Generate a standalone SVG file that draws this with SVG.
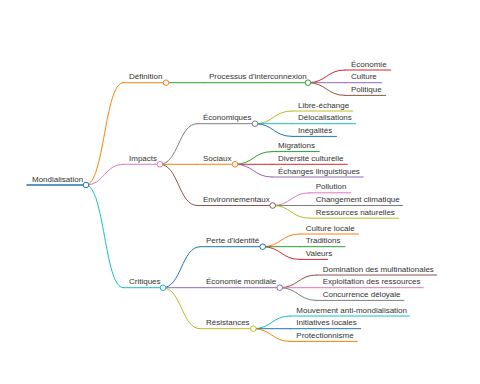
<svg xmlns="http://www.w3.org/2000/svg" width="480" height="384" viewBox="0 0 480 384">
<style>
text{font-family:"Liberation Sans",Arial,sans-serif;font-size:8px;fill:#333}
path,line{fill:none;stroke-linecap:round}
circle{fill:#fff;stroke-width:1}
.l{stroke-width:1}
.c0{stroke:#1f77b4}.c1{stroke:#ff7f0e}.c2{stroke:#2ca02c}.c3{stroke:#d62728}.c4{stroke:#9467bd}
.c5{stroke:#8c564b}.c6{stroke:#e377c2}.c7{stroke:#7f7f7f}.c8{stroke:#bcbd22}.c9{stroke:#17becf}
</style>
<rect width="480" height="384" fill="#fff"/>
<g id="connectors" stroke-width="1">
<path class="c1" d="M86,185 C104.5,185 104.5,82.7 123,82.7"/>
<path class="c6" d="M86,185 C104.5,185 104.5,164.3 123,164.3"/>
<path class="c9" d="M86,185 C104.5,185 104.5,287.7 123,287.7"/>
<path class="c2" d="M166,82.7 L203,82.7"/>
<path class="c3" d="M308,82.7 C326.5,82.7 326.5,70 345,70"/>
<path class="c4" d="M308,82.7 C326.5,82.7 326.5,82.7 345,82.7"/>
<path class="c5" d="M308,82.7 C326.5,82.7 326.5,95.4 345,95.4"/>
<path class="c7" d="M160,164.3 C178.5,164.3 178.5,123.7 197,123.7"/>
<path class="c1" d="M160,164.3 L197,164.3"/>
<path class="c5" d="M160,164.3 C178.5,164.3 178.5,205.5 197,205.5"/>
<path class="c8" d="M255,123.7 C273.5,123.7 273.5,111 292,111"/>
<path class="c9" d="M255,123.7 L292,123.7"/>
<path class="c0" d="M255,123.7 C273.5,123.7 273.5,136.4 292,136.4"/>
<path class="c2" d="M235,164.3 C253.5,164.3 253.5,151.6 272,151.6"/>
<path class="c3" d="M235,164.3 L272,164.3"/>
<path class="c4" d="M235,164.3 C253.5,164.3 253.5,177 272,177"/>
<path class="c6" d="M272.7,205.5 C291.2,205.5 291.2,192.8 309.7,192.8"/>
<path class="c7" d="M272.7,205.5 L309.7,205.5"/>
<path class="c8" d="M272.7,205.5 C291.2,205.5 291.2,218.2 309.7,218.2"/>
<path class="c0" d="M163,287.7 C181.5,287.7 181.5,246.7 200,246.7"/>
<path class="c4" d="M163,287.7 L200,287.7"/>
<path class="c8" d="M163,287.7 C181.5,287.7 181.5,328.7 200,328.7"/>
<path class="c1" d="M262.7,246.7 C281.2,246.7 281.2,234 299.7,234"/>
<path class="c2" d="M262.7,246.7 L299.7,246.7"/>
<path class="c3" d="M262.7,246.7 C281.2,246.7 281.2,259.4 299.7,259.4"/>
<path class="c5" d="M279.7,287.7 C298.2,287.7 298.2,275 316.7,275"/>
<path class="c6" d="M279.7,287.7 L316.7,287.7"/>
<path class="c7" d="M279.7,287.7 C298.2,287.7 298.2,300.4 316.7,300.4"/>
<path class="c9" d="M253.3,328.7 C271.8,328.7 271.8,316 290.3,316"/>
<path class="c0" d="M253.3,328.7 L290.3,328.7"/>
<path class="c1" d="M253.3,328.7 C271.8,328.7 271.8,341.4 290.3,341.4"/>
</g>
<g id="n-root"><line class="c0" x1="27" y1="185" x2="86" y2="185" stroke-width="1.5"/><text x="32" y="181.5">Mondialisation</text><circle class="c0" cx="86" cy="185" r="2.8"/></g>
<g id="n-definition"><line class="c1 l" x1="123" y1="82.7" x2="166" y2="82.7"/><text x="129" y="79.2">Définition</text><circle class="c1" cx="166" cy="82.7" r="2.8"/></g>
<g id="n-processus"><line class="c2 l" x1="203" y1="82.7" x2="308" y2="82.7"/><text x="209" y="79.2">Processus d'interconnexion</text><circle class="c2" cx="308" cy="82.7" r="2.8"/></g>
<g id="n-economie"><line class="c3 l" x1="345" y1="70" x2="390.7" y2="70"/><text x="351" y="66.5">Économie</text></g>
<g id="n-culture"><line class="c4 l" x1="345" y1="82.7" x2="381.7" y2="82.7"/><text x="351" y="79.2">Culture</text></g>
<g id="n-politique"><line class="c5 l" x1="345" y1="95.4" x2="385.7" y2="95.4"/><text x="351" y="91.9">Politique</text></g>
<g id="n-impacts"><line class="c6 l" x1="123" y1="164.3" x2="160" y2="164.3"/><text x="129" y="160.8">Impacts</text><circle class="c6" cx="160" cy="164.3" r="2.8"/></g>
<g id="n-economiques"><line class="c7 l" x1="197" y1="123.7" x2="255" y2="123.7"/><text x="203" y="120.2">Économiques</text><circle class="c7" cx="255" cy="123.7" r="2.8"/></g>
<g id="n-libre"><line class="c8 l" x1="292" y1="111" x2="352.7" y2="111"/><text x="298" y="107.5">Libre-échange</text></g>
<g id="n-deloc"><line class="c9 l" x1="292" y1="123.7" x2="355.7" y2="123.7"/><text x="298" y="120.2">Délocalisations</text></g>
<g id="n-ineg"><line class="c0 l" x1="292" y1="136.4" x2="336.7" y2="136.4"/><text x="298" y="132.9">Inégalités</text></g>
<g id="n-sociaux"><line class="c1 l" x1="197" y1="164.3" x2="235" y2="164.3"/><text x="203" y="160.8">Sociaux</text><circle class="c1" cx="235" cy="164.3" r="2.8"/></g>
<g id="n-migr"><line class="c2 l" x1="272" y1="151.6" x2="319.3" y2="151.6"/><text x="278" y="148.1">Migrations</text></g>
<g id="n-div"><line class="c3 l" x1="272" y1="164.3" x2="347.3" y2="164.3"/><text x="278" y="160.8">Diversité culturelle</text></g>
<g id="n-ech"><line class="c4 l" x1="272" y1="177" x2="363.3" y2="177"/><text x="278" y="173.5">Échanges linguistiques</text></g>
<g id="n-env"><line class="c5 l" x1="197" y1="205.5" x2="272.7" y2="205.5"/><text x="203" y="202">Environnementaux</text><circle class="c5" cx="272.7" cy="205.5" r="2.8"/></g>
<g id="n-poll"><line class="c6 l" x1="309.7" y1="192.8" x2="350.7" y2="192.8"/><text x="315.7" y="189.3">Pollution</text></g>
<g id="n-chang"><line class="c7 l" x1="309.7" y1="205.5" x2="402.7" y2="205.5"/><text x="315.7" y="202">Changement climatique</text></g>
<g id="n-ress"><line class="c8 l" x1="309.7" y1="218.2" x2="398.7" y2="218.2"/><text x="315.7" y="214.7">Ressources naturelles</text></g>
<g id="n-critiques"><line class="c9 l" x1="123" y1="287.7" x2="163" y2="287.7"/><text x="129" y="284.2">Critiques</text><circle class="c9" cx="163" cy="287.7" r="2.8"/></g>
<g id="n-perte"><line class="c0 l" x1="200" y1="246.7" x2="262.7" y2="246.7"/><text x="206" y="243.2">Perte d'identité</text><circle class="c0" cx="262.7" cy="246.7" r="2.8"/></g>
<g id="n-culloc"><line class="c1 l" x1="299.7" y1="234" x2="358.7" y2="234"/><text x="305.7" y="230.5">Culture locale</text></g>
<g id="n-trad"><line class="c2 l" x1="299.7" y1="246.7" x2="345" y2="246.7"/><text x="305.7" y="243.2">Traditions</text></g>
<g id="n-val"><line class="c3 l" x1="299.7" y1="259.4" x2="327.7" y2="259.4"/><text x="305.7" y="255.9">Valeurs</text></g>
<g id="n-ecomon"><line class="c4 l" x1="200" y1="287.7" x2="279.7" y2="287.7"/><text x="206" y="284.2">Économie mondiale</text><circle class="c4" cx="279.7" cy="287.7" r="2.8"/></g>
<g id="n-dom"><line class="c5 l" x1="316.7" y1="275" x2="436.7" y2="275"/><text x="322.7" y="271.5">Domination des multinationales</text></g>
<g id="n-expl"><line class="c6 l" x1="316.7" y1="287.7" x2="423.3" y2="287.7"/><text x="322.7" y="284.2">Exploitation des ressources</text></g>
<g id="n-conc"><line class="c7 l" x1="316.7" y1="300.4" x2="404" y2="300.4"/><text x="322.7" y="296.9">Concurrence déloyale</text></g>
<g id="n-res"><line class="c8 l" x1="200" y1="328.7" x2="253.3" y2="328.7"/><text x="206" y="325.2">Résistances</text><circle class="c8" cx="253.3" cy="328.7" r="2.8"/></g>
<g id="n-mouv"><line class="c9 l" x1="290.3" y1="316" x2="409.3" y2="316"/><text x="296.3" y="312.5">Mouvement anti-mondialisation</text></g>
<g id="n-init"><line class="c0 l" x1="290.3" y1="328.7" x2="360.7" y2="328.7"/><text x="296.3" y="325.2">Initiatives locales</text></g>
<g id="n-prot"><line class="c1 l" x1="290.3" y1="341.4" x2="357.3" y2="341.4"/><text x="296.3" y="337.9">Protectionnisme</text></g>
</svg>
